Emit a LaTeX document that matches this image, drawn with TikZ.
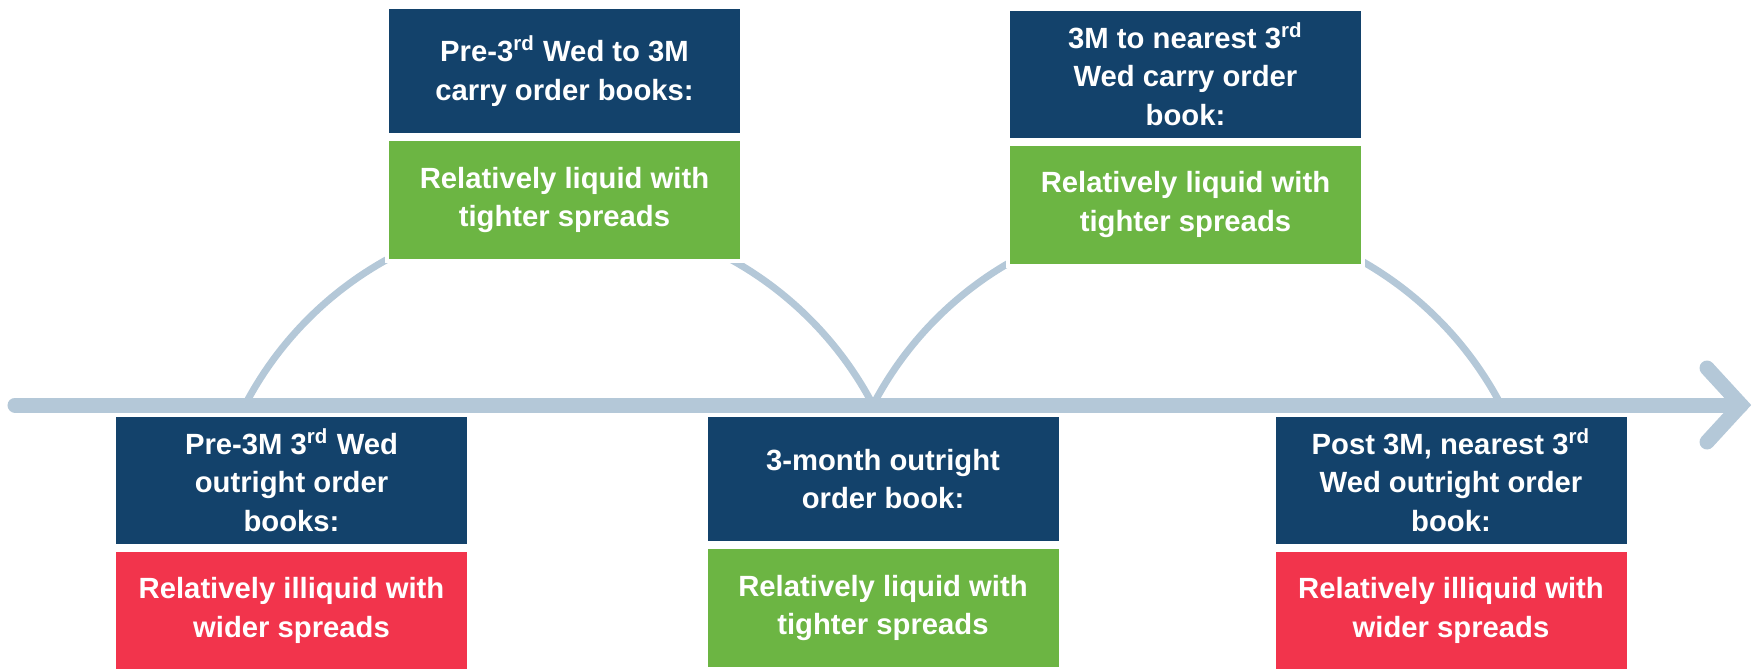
\documentclass[tikz,border=0pt]{standalone}
\usepackage{fontspec}
\setmainfont{Liberation Sans}
\usetikzlibrary{positioning}
\definecolor{navy}{HTML}{13426B}
\definecolor{liquid}{HTML}{6CB543}
\definecolor{illiquid}{HTML}{F2344C}
\definecolor{axisgrey}{HTML}{B4C8D8}
\tikzset{
  book/.style={fill=navy, draw=white, line width=1.6pt, outer sep=0pt,
    minimum width=142pt, minimum height=51.2pt, inner xsep=4pt, inner ysep=5.5pt,
    align=center, text=white, font=\bfseries\fontsize{11.7}{15.4}\selectfont},
  tight/.style={book, fill=liquid, minimum height=48.8pt},
  wide/.style={book, fill=illiquid, minimum height=48.8pt},
  timeline/.style={draw=axisgrey, line width=6pt, line cap=round},
  span/.style={draw=axisgrey, line width=2.8pt},
}
\begin{document}
\begin{tikzpicture}[x=0.4pt, y=-0.4pt]
      \useasboundingbox (0,0) rectangle (1759,668);
      \coordinate (start) at (15,405);
      \coordinate (tip) at (1741,405);
      \coordinate (up) at (1707,368);
      \coordinate (down) at (1707,442);
      \coordinate (t0) at (245,405);
      \coordinate (t1) at (873,405);
      \coordinate (t2) at (1501,405);
      \draw[span] (t0) arc[start angle=-152.35, end angle=-27.65, radius=354.5];
      \draw[span] (t1) arc[start angle=-152.35, end angle=-27.65, radius=354.5];
      \draw[timeline] (start) -- (tip);
      \draw[timeline, line join=miter] (up) -- (tip) -- (down);
      \node[book, anchor=north] (carry1) at (564.5,7)
        {Pre-3\textsuperscript{rd} Wed to 3M\\carry order books:};
      \node[tight, below=1.6pt of carry1] (carry1note)
        {Relatively liquid with\\tighter spreads};
      \node[book, anchor=north] (carry2) at (1185.5,9)
        {3M to nearest 3\textsuperscript{rd}\\Wed carry order\\book:};
      \node[tight, below=1.6pt of carry2] (carry2note)
        {Relatively liquid with\\tighter spreads};
      \node[book, anchor=north] (pre) at (291.5,415)
        {Pre-3M 3\textsuperscript{rd} Wed\\outright order\\books:};
      \node[wide, below=1.6pt of pre] (prenote)
        {Relatively illiquid with\\wider spreads};
      \node[book, anchor=north] (three) at (883,415)
        {3-month outright\\order book:};
      \node[tight, below=1.6pt of three] (threenote)
        {Relatively liquid with\\tighter spreads};
      \node[book, anchor=north] (post) at (1451,415)
        {Post 3M, nearest 3\textsuperscript{rd}\\Wed outright order\\book:};
      \node[wide, below=1.6pt of post] (postnote)
        {Relatively illiquid with\\wider spreads};
    \end{tikzpicture}
\end{document}
